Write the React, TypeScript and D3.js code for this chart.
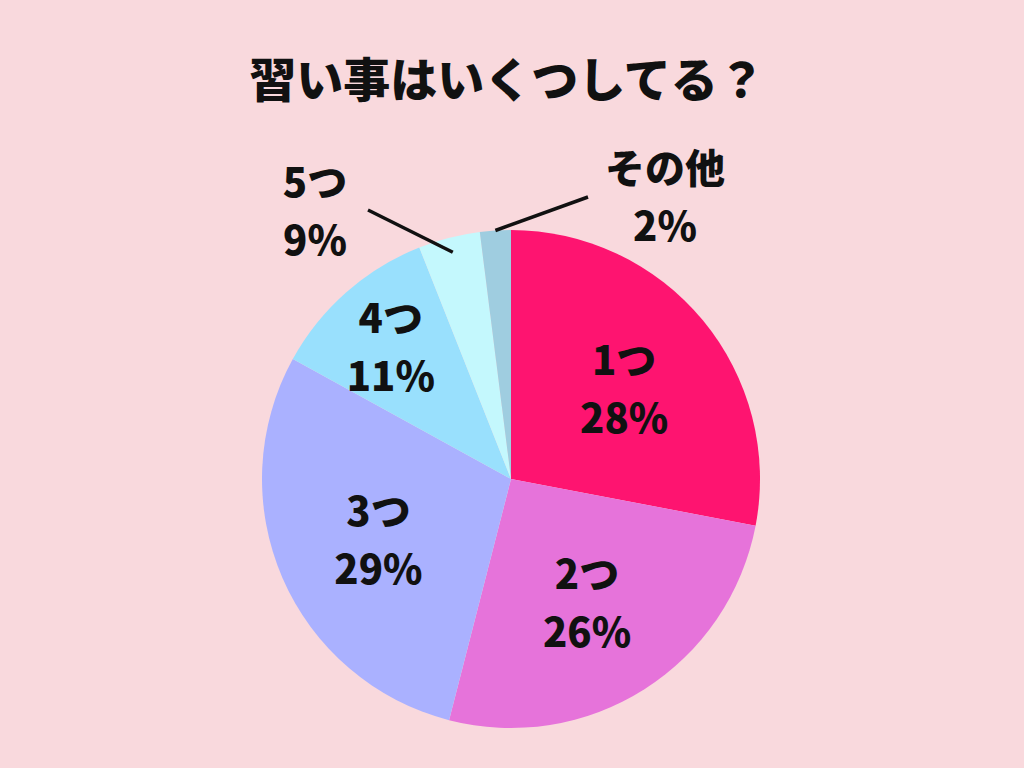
import * as d3 from 'd3';
import React, { useRef, useEffect } from 'react';

const width = 1024;
const height = 768;

const title = '習い事はいくつしてる？';
const categories = ['1つ', '2つ', '3つ', '4つ', '5つ', 'その他'];
// slice sizes as drawn in the picture
const values = [28, 26, 29, 11, 4, 2];
// percentages as printed on the labels
const percentLabels = ['28%', '26%', '29%', '11%', '9%', '2%'];
const colors = ['#fe1470', '#e673da', '#aab1ff', '#99e0fd', '#c4f8fd', '#9fcde0'];

const center = { x: 511, y: 479 };
const radius = 249;
const font = '"Noto Sans CJK JP", "Noto Sans", sans-serif';

// inside labels: distance from centre as fraction of radius
const insideRadius = [0.59, 0.57, 0.58, 0.73];
// outside labels: first-line baseline, and start of the leader line
const outside = [
  { text: [315, 197], line: [368, 210], lineEndFrac: 0.94 },
  { text: [665, 183], line: [588, 197], lineEndFrac: 1.0 },
];

function PieChart() {
  const ref = useRef<SVGSVGElement>(null);

  useEffect(() => {
    draw();
  }, []); // eslint-disable-line react-hooks/exhaustive-deps

  const draw = () => {
    const svg = d3.select(ref.current);
    svg.selectAll('*').remove();

    svg.append('rect').attr('width', width).attr('height', height).attr('fill', '#f9d9dd');

    svg
      .append('text')
      .attr('x', 507)
      .attr('y', 97)
      .attr('text-anchor', 'middle')
      .style('font-family', font)
      .style('font-weight', 900)
      .style('font-size', '47px')
      .attr('fill', '#111')
      .text(title);

    const pie = d3.pie<number>().sort(null).value((d) => d);
    const arcs = pie(values);
    const arc = d3.arc<d3.PieArcDatum<number>>().innerRadius(0).outerRadius(radius);

    const g = svg.append('g').attr('transform', `translate(${center.x}, ${center.y})`);

    g.selectAll('path')
      .data(arcs)
      .enter()
      .append('path')
      .attr('d', arc)
      .attr('fill', (d, i) => colors[i]);

    const mid = (d: d3.PieArcDatum<number>) => (d.startAngle + d.endAngle) / 2;

    arcs.forEach((d, i) => {
      const a = mid(d);
      let x: number;
      let y1: number;
      if (i < 4) {
        const r = radius * insideRadius[i];
        x = center.x + Math.sin(a) * r;
        y1 = center.y - Math.cos(a) * r - 10;
      } else {
        const o = outside[i - 4];
        x = o.text[0];
        y1 = o.text[1];
        const ex = center.x + Math.sin(a) * radius * o.lineEndFrac;
        const ey = center.y - Math.cos(a) * radius * o.lineEndFrac;
        svg
          .append('line')
          .attr('x1', o.line[0])
          .attr('y1', o.line[1])
          .attr('x2', ex)
          .attr('y2', ey)
          .attr('stroke', '#111')
          .attr('stroke-width', 3.5);
      }
      const t = svg
        .append('text')
        .attr('text-anchor', 'middle')
        .style('font-family', font)
        .style('font-weight', 900)
        .style('font-size', '40px')
        .attr('fill', '#111');
      t.append('tspan').attr('x', x).attr('y', y1).text(categories[i]);
      t.append('tspan').attr('x', x).attr('y', y1 + 58).text(percentLabels[i]);
    });
  };

  return <svg ref={ref} width={width} height={height} style={{ display: 'block' }} />;
}

export default function App() {
  return (
    <div style={{ position: 'fixed', left: 0, top: 0 }}>
      <PieChart />
    </div>
  );
}
